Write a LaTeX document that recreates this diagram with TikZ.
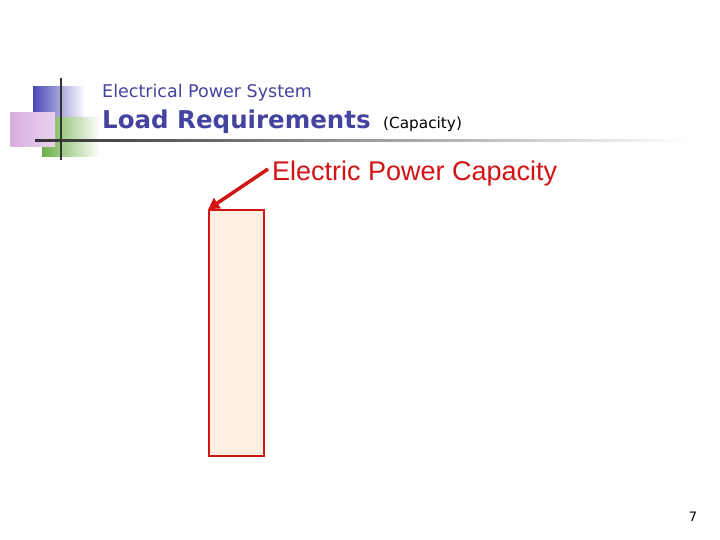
\documentclass[tikz,border=0pt]{standalone}
\usepackage{fontspec}
\setmainfont{DejaVu Sans}
\newfontfamily\arialf{Liberation Sans}
\usetikzlibrary{arrows.meta}
\definecolor{ttl}{RGB}{68,68,160}
\definecolor{lblue}{RGB}{72,72,185}
\definecolor{lgreen}{RGB}{110,175,70}
\definecolor{lpink}{RGB}{200,140,210}
\definecolor{peach}{RGB}{255,240,225}
\definecolor{redc}{RGB}{210,20,20}
\begin{document}
\begin{tikzpicture}[x=1pt,y=-1pt,
  ttlstyle/.style={anchor=base west,inner sep=0,text=ttl}]
\useasboundingbox (0,0) rectangle (720,540);
\fill[white] (0,0) rectangle (720,540);
% logo
\shade[left color=lblue,right color=white] (33,87) rectangle (85,118);
\shade[left color=lgreen,right color=white] (42,118) rectangle (100,157);
\shade[left color=lpink!70!white,right color=lpink!40!white] (10,113) rectangle (55,147);
\shade[left color=black!80,right color=white] (35,140) rectangle (690,142);
\draw[black!80,line width=2.5] (61,78) -- (61,160);
% titles
\node[ttlstyle,font=\fontsize{17.5}{20}\selectfont] (t1) at (102,98) {Electrical Power System};
\node[ttlstyle,font=\fontsize{24.5}{28}\selectfont\bfseries] (t2) at (102,129) {Load Requirements};
\node[ttlstyle,font=\fontsize{15.3}{18}\selectfont,text=black] (t3) at (383,129) {(Capacity)};
\node[anchor=base west,inner sep=0,text=redc,font=\arialf\fontsize{27}{30}\selectfont] (lab) at (272,181) {Electric Power Capacity};
\node[draw=redc,fill=peach,line width=1.5,minimum width=55,minimum height=246,inner sep=0] (bar) at (236.5,333) {};
\coordinate (as) at (268,169);
\draw[redc,line width=3.5,-{Triangle[length=11,width=12]}] (as) -- (bar.north west);
\node[anchor=base,inner sep=0,font=\fontsize{13}{15}\selectfont] (pg) at (693,521) {7};
\end{tikzpicture}
\end{document}
